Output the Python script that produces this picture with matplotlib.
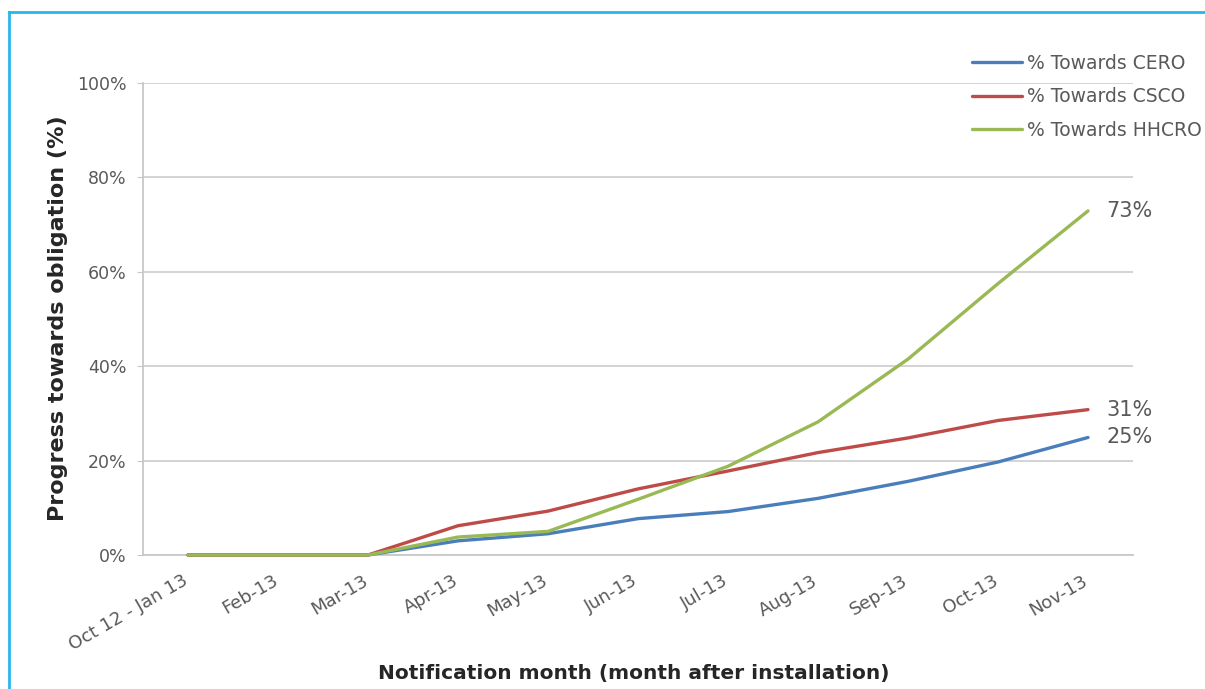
import matplotlib
matplotlib.use("Agg")
import matplotlib.pyplot as plt
from matplotlib.lines import Line2D
from matplotlib.ticker import FuncFormatter
import matplotlib.transforms as mtrans

months = ["Oct 12 - Jan 13", "Feb-13", "Mar-13", "Apr-13", "May-13", "Jun-13",
          "Jul-13", "Aug-13", "Sep-13", "Oct-13", "Nov-13"]
cero = [0, 0, 0, 3.0, 4.5, 7.7, 9.2, 12.0, 15.6, 19.7, 24.9]
csco = [0, 0, 0, 6.2, 9.3, 14.0, 17.8, 21.7, 24.8, 28.5, 30.8]
hhcro = [0, 0, 0, 3.8, 5.0, 11.8, 18.8, 28.2, 41.5, 57.5, 72.9]
series_names = ["% Towards CERO", "% Towards CSCO", "% Towards HHCRO"]
end_labels = ["25%", "31%", "73%"]
colors = ["#4A7EBB", "#BE4B48", "#98B954"]

W, H = 1205, 689
fig = plt.figure(figsize=(W / 100, H / 100), dpi=100)
fig.patch.set_facecolor("white")

left, right, top, bottom = 143, 1133, 83, 555
ax = fig.add_axes([left / W, 1 - bottom / H, (right - left) / W, (bottom - top) / H])

x = list(range(len(months)))
series = [cero, csco, hhcro]
for vals, name, c in zip(series, series_names, colors):
    ax.plot(x, vals, color=c, lw=2.4, label=name, solid_capstyle="round",
            zorder=3, clip_on=False)

for vals, lab in zip(series, end_labels):
    ax.annotate(lab, (x[-1], vals[-1]), xytext=(13, 0), textcoords="offset points",
                ha="left", va="center", fontsize=15, color="#595959")

ax.set_xlim(-0.5, len(months) - 0.5)
ax.set_ylim(0, 100)
ax.set_yticks([0, 20, 40, 60, 80, 100])
ax.yaxis.set_major_formatter(FuncFormatter(lambda v, p: f"{v:.0f}%"))
ax.grid(axis="y", color="#D0D0D0", lw=1.3)
ax.set_axisbelow(True)
for s in ["top", "right"]:
    ax.spines[s].set_visible(False)
for s in ["left", "bottom"]:
    ax.spines[s].set_color("#C8C8C8")
    ax.spines[s].set_linewidth(1.3)
    ax.spines[s].set_zorder(1)
ax.tick_params(axis="y", length=4, color="#C8C8C8", labelsize=12.5, labelcolor="#595959", pad=8)
ax.set_xticks(x)
ax.set_xticklabels(months, rotation=30, ha="right", rotation_mode="anchor",
                   fontsize=13, color="#595959")
ax.tick_params(axis="x", length=0, pad=12)
shift = mtrans.ScaledTranslation(-6 / 100, 0, fig.dpi_scale_trans)
for lbl in ax.get_xticklabels():
    lbl.set_transform(lbl.get_transform() + shift)

fig.text(634 / W, 1 - 673 / H, "Notification month (month after installation)",
         fontsize=14.5, fontweight="bold", color="#262626", ha="center", va="center")
fig.text(58 / W, 1 - 318 / H, "Progress towards obligation (%)", rotation=90,
         fontsize=16, fontweight="bold", color="#262626", ha="center", va="center")

leg = fig.legend(loc="upper left", bbox_to_anchor=(972 / W, 1 - 54 / H),
                 frameon=False, fontsize=13.5, labelcolor="#595959",
                 handlelength=2.65, handletextpad=0.3, labelspacing=0.76,
                 borderpad=0, borderaxespad=0)

border = "#29B6E8"
fig.add_artist(Line2D([9 / W, 9 / W], [0, 1 - 12 / H], color=border, lw=2,
                      transform=fig.transFigure))
fig.add_artist(Line2D([9 / W, 1], [1 - 12 / H, 1 - 12 / H], color=border, lw=2,
                      transform=fig.transFigure))

fig.savefig("out.png", dpi=100)
